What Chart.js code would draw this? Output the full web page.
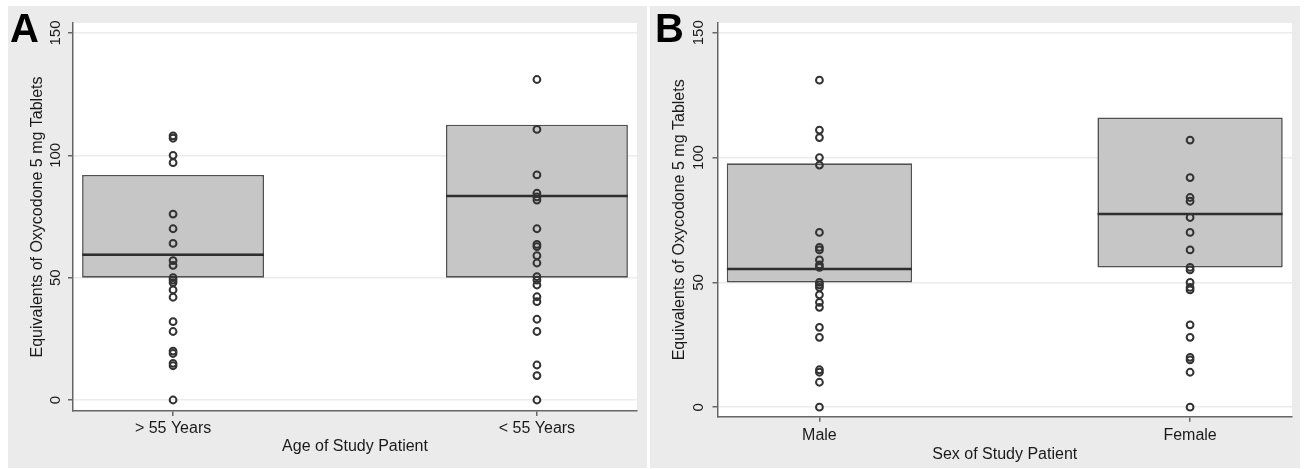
<!DOCTYPE html>
<html><head><meta charset="utf-8">
<script src="https://cdn.jsdelivr.net/npm/chart.js@4"></script>
<style>
html,body{margin:0;padding:0;background:#fff;width:1310px;height:469px;overflow:hidden}
canvas{position:absolute;background:#ebebeb}
#cA{left:8px;top:6px}
#cB{left:650px;top:6px}
</style></head><body>
<canvas id="cA" width="639" height="462"></canvas>
<canvas id="cB" width="650" height="462"></canvas>
<script>
// ---- data ----
const yTicks = [0, 50, 100, 150];
const categoryPos = [1, 2];
const ageLabels = ['> 55 Years', '< 55 Years'];
const sexLabels = ['Male', 'Female'];
const ageOver55 = [108, 107, 100, 97, 76, 70, 64, 57, 55, 50, 49, 48, 45, 42, 32, 28, 20, 19, 15, 14, 0];
const ageUnder55 = [131, 110.6, 92, 84.5, 83, 81.7, 70, 63.6, 62.7, 59, 56, 50.4, 49, 47, 42.2, 40.2, 33, 28, 14.3, 10, 0];
const male = [131, 111, 108, 100, 97, 70, 64, 63, 59, 57, 56, 50, 49, 48, 45, 42, 40, 32, 28, 15, 14, 10, 0];
const female = [107, 92, 84, 82.5, 76, 70, 63, 56, 55, 50, 48, 47, 33, 28, 20, 19, 14, 0];
const ageQ1 = [50, 50], ageMedian = [60, 84], ageQ3 = [92, 112.5];
const sexQ1 = [50, 56], sexMedian = [56, 78], sexQ3 = [97.7, 116];
const yTitle = 'Equivalents of Oxycodone 5 mg Tablets';

const FONT = '"Liberation Sans", Arial, Helvetica, sans-serif';

const plotBg = {
  id: 'plotBg',
  beforeDraw(chart) {
    const {ctx, chartArea: a} = chart;
    ctx.save();
    ctx.fillStyle = '#ffffff';
    ctx.fillRect(a.left, a.top, a.right - a.left, a.bottom - a.top);
    ctx.restore();
  }
};
const letter = {
  id: 'letter',
  afterDraw(chart, args, o) {
    const c = chart.ctx;
    c.save();
    c.font = 'bold 40px ' + FONT;
    c.fillStyle = '#000';
    c.textBaseline = 'alphabetic';
    c.fillText(o.text, o.x, o.y);
    c.restore();
  }
};

function panel(id, p) {
  const groups = [p.g1, p.g2];
  const datasets = [];
  groups.forEach((vals, i) => {
    datasets.push({
      type: 'scatter', order: 1,
      data: vals.map(v => ({x: categoryPos[i], y: v})),
      pointRadius: 3.4, pointBorderWidth: 2,
      pointBackgroundColor: 'rgba(0,0,0,0)', pointBorderColor: '#333'
    });
  });
  datasets.push({
    type: 'bar', order: 2, grouped: false,
    data: categoryPos.map((x, i) => ({x, y: [p.q1[i], p.med[i]]})),
    backgroundColor: 'rgba(0,0,0,0)', borderColor: '#2e2e2e',
    borderWidth: {top: 2.8, left: 0, right: 0, bottom: 0}, borderSkipped: false,
    barPercentage: 0.5, categoryPercentage: 1
  });
  datasets.push({
    type: 'bar', order: 3, grouped: false,
    data: categoryPos.map((x, i) => ({x, y: [p.q1[i], p.q3[i]]})),
    backgroundColor: '#c6c6c6', borderColor: '#505050',
    borderWidth: 1.6, borderSkipped: false,
    barPercentage: 0.5, categoryPercentage: 1
  });
  new Chart(document.getElementById(id), {
    type: 'bar',
    data: {datasets},
    plugins: [plotBg, letter],
    options: {
      responsive: false, animation: false, events: [],
      layout: {padding: {top: 17, right: p.padR, bottom: 0, left: 0}},
      plugins: {legend: {display: false}, tooltip: {enabled: false},
        letter: {text: p.letter, x: p.lx, y: 36}},
      scales: {
        x: {
          type: 'linear', min: 0.725, max: 2.275, bounds: 'data', offset: false,
          afterBuildTicks: s => { s.ticks = categoryPos.map(v => ({value: v})); },
          afterFit: s => { s.height = p.xH; },
          grid: {offset: false, drawOnChartArea: false, drawTicks: true, color: '#666', tickLength: 5, lineWidth: 1.5},
          border: {display: true, color: '#666', width: 1.5},
          ticks: {padding: p.xPad, color: '#1a1a1a', font: {family: FONT, size: 16},
            maxRotation: 0, autoSkip: false, callback: (v, i) => p.labels[i]},
          title: {display: true, text: p.xTitle, color: '#1a1a1a', font: {family: FONT, size: 16},
            padding: {top: 0, bottom: p.xtPad}}
        },
        y: {
          min: p.yMin, max: p.yMax, bounds: 'data',
          afterBuildTicks: s => { s.ticks = yTicks.map(v => ({value: v})); },
          afterFit: s => { s.width = p.yW; },
          grid: {color: '#ececec', lineWidth: 1.5, tickColor: '#666', tickLength: 5, tickWidth: 1.5, drawTicks: true},
          border: {display: true, color: '#666', width: 1.5},
          ticks: {minRotation: 90, maxRotation: 90, crossAlign: 'center', padding: p.yPad,
            color: '#1a1a1a', font: {family: FONT, size: 15}, callback: v => String(v)},
          title: {display: true, text: yTitle, color: '#1a1a1a', font: {family: FONT, size: 16},
            padding: {top: p.ytPad, bottom: 0}}
        }
      }
    }
  });
}

panel('cA', {g1: ageOver55, g2: ageUnder55, q1: ageQ1, med: ageMedian, q3: ageQ3,
  labels: ageLabels, xTitle: 'Age of Study Patient', letter: 'A', lx: 2,
  yMin: -4.5, yMax: 154.1, yW: 65, yPad: 0, ytPad: 20, xH: 57, xPad: 3, xtPad: 11.5, padR: 10});
panel('cB', {g1: male, g2: female, q1: sexQ1, med: sexMedian, q3: sexQ3,
  labels: sexLabels, xTitle: 'Sex of Study Patient', letter: 'B', lx: 5,
  yMin: -3.8, yMax: 153.9, yW: 67.5, yPad: 1, ytPad: 20.4, xH: 51.3, xPad: 4, xtPad: 4, padR: 8});
</script>
</body></html>
